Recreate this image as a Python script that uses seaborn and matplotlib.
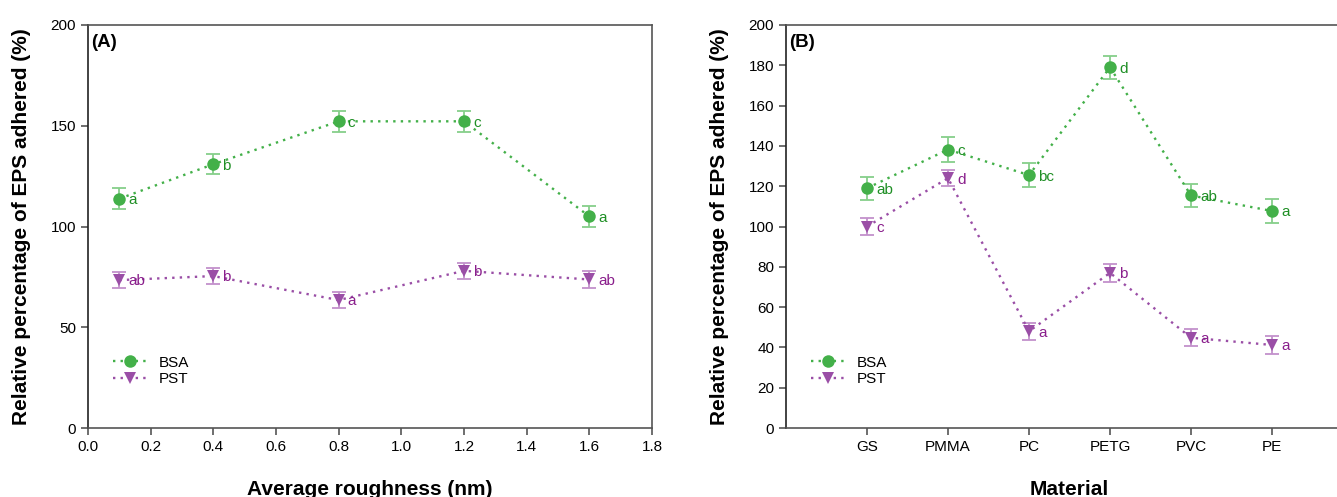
import numpy as np
import pandas as pd
import seaborn as sb
from matplotlib import pyplot as plt

# panel A: roughness series
roughness = [0.1, 0.4, 0.8, 1.2, 1.6]
bsa_a = [113.8, 130.9, 152.2, 152.2, 105.0]
bsa_a_err = [5.3, 5.0, 5.2, 5.2, 5.2]
bsa_a_lbl = ["a", "b", "c", "c", "a"]
pst_a = [73.4, 75.4, 63.5, 78.0, 73.7]
pst_a_err = [4.0, 4.0, 4.0, 4.0, 4.0]
pst_a_lbl = ["ab", "b", "a", "b", "ab"]

# panel B: materials
materials = ["GS", "PMMA", "PC", "PETG", "PVC", "PE"]
bsa_b = [119.0, 138.2, 125.5, 179.0, 115.4, 107.7]
bsa_b_err = [5.7, 6.0, 6.0, 5.6, 5.6, 5.8]
bsa_b_lbl = ["ab", "c", "bc", "d", "ab", "a"]
pst_b = [100.0, 124.0, 48.0, 77.0, 44.8, 41.2]
pst_b_err = [4.4, 4.0, 4.3, 4.3, 4.3, 4.3]
pst_b_lbl = ["c", "d", "a", "b", "a", "a"]

sb.set_style("ticks")
plt.rcParams['font.family'] = ['Liberation Sans', 'DejaVu Sans']
plt.rcParams['text.color'] = 'black'
plt.rcParams['axes.labelcolor'] = 'black'
plt.rcParams['xtick.labelcolor'] = 'black'
plt.rcParams['ytick.labelcolor'] = 'black'

green, green_err, green_txt = "#43b049", "#86cf8a", "#1f8f25"
purple, purple_err, purple_txt = "#9a4ea6", "#c391cc", "#8a1f8c"
dots = (0, (1, 2.2))

fig = plt.figure(figsize=(13.37, 4.97), dpi=100)
ax_a = fig.add_axes([88 / 1337, 69 / 497, 564 / 1337, 403 / 497])
ax_b = fig.add_axes([786 / 1337, 69 / 497, 567 / 1337, 403 / 497])


def draw_series(ax, x, y, err, lbls, name, marker, col, ecol, tcol):
    ax.errorbar(x, y, yerr=err, fmt="none", ecolor=ecol, elinewidth=1.3,
                capsize=5, capthick=1.3, zorder=2)
    df = pd.DataFrame({"x": x, "y": y})
    sb.lineplot(data=df, x="x", y="y", ax=ax, color=col, linestyle=dots,
                linewidth=1.7, marker=marker, markersize=9, markeredgewidth=0,
                label=name, zorder=3)
    for xi, yi, t in zip(x, y, lbls):
        ax.annotate(t, (xi, yi), xytext=(6.5, -1), textcoords="offset points",
                    va="center", ha="left", fontsize=11, color=tcol, zorder=4)


def style_axes(ax, panel):
    for s in ["left", "bottom", "top", "right"]:
        ax.spines[s].set_color("#555555")
        ax.spines[s].set_linewidth(1.2)
    ax.spines["left"].set_color("#222222")
    ax.tick_params(direction="out", length=5, width=1.2, color="#555555",
                   labelsize=11, top=False, right=False)
    ax.set_ylabel("Relative percentage of EPS adhered (%)", fontsize=15,
                  fontweight="bold", labelpad=14)
    ax.text(0.006, 0.978, panel, transform=ax.transAxes, fontsize=13.5,
            fontweight="bold", va="top", ha="left")
    ax.legend(loc="lower left", bbox_to_anchor=(0.02, 0.07), frameon=False,
              fontsize=11, handlelength=2.2, labelspacing=0.15, handletextpad=0.8)


draw_series(ax_a, roughness, bsa_a, bsa_a_err, bsa_a_lbl, "BSA", "o", green, green_err, green_txt)
draw_series(ax_a, roughness, pst_a, pst_a_err, pst_a_lbl, "PST", "v", purple, purple_err, purple_txt)
ax_a.set_xlim(0, 1.8)
ax_a.set_ylim(0, 200)
ax_a.set_xticks(np.arange(0, 1.81, 0.2))
ax_a.set_xticklabels([f"{v:.1f}" for v in np.arange(0, 1.81, 0.2)])
ax_a.set_yticks(range(0, 201, 50))
ax_a.set_xlabel("Average roughness (nm)", fontsize=15, fontweight="bold", labelpad=19)
style_axes(ax_a, "(A)")

pos = list(range(1, len(materials) + 1))
draw_series(ax_b, pos, bsa_b, bsa_b_err, bsa_b_lbl, "BSA", "o", green, green_err, green_txt)
draw_series(ax_b, pos, pst_b, pst_b_err, pst_b_lbl, "PST", "v", purple, purple_err, purple_txt)
ax_b.set_xlim(0, 7)
ax_b.set_ylim(0, 200)
ax_b.set_xticks(pos)
ax_b.set_xticklabels(materials)
ax_b.set_yticks(range(0, 201, 20))
ax_b.set_xlabel("Material", fontsize=15, fontweight="bold", labelpad=19)
style_axes(ax_b, "(B)")

plt.savefig("out.png", dpi=100)
